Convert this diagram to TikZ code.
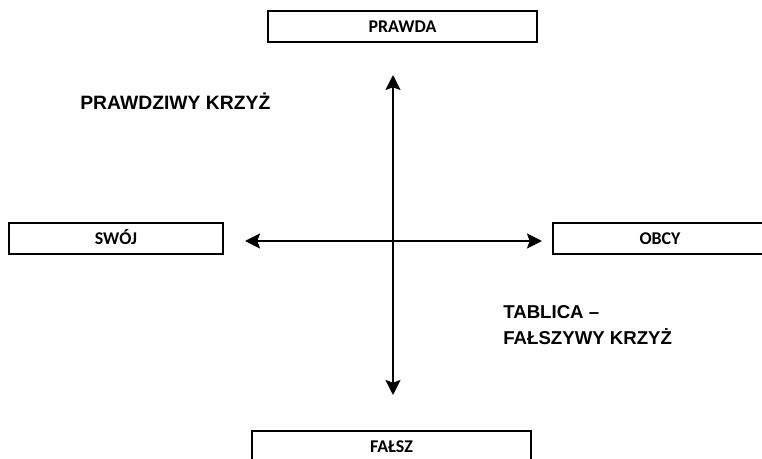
\documentclass[tikz,border=0pt]{standalone}
\usepackage{fontspec}
\setmainfont{Liberation Sans}
\newfontfamily\boxfont{Carlito}
\usetikzlibrary{arrows.meta}

\tikzset{
  pole/.style={draw, line width=1.4pt, minimum height=31*0.02cm, inner sep=0pt,
               text height=1.45ex, text depth=0.2ex,
               font=\boxfont\bfseries\fontsize{10.2}{12}\selectfont},
  axis/.style={line width=1.4pt, {Stealth[length=8.5pt,width=8.5pt,inset=1.5pt]}-{Stealth[length=8.5pt,width=8.5pt,inset=1.5pt]}},
  note/.style={anchor=west, align=left, font=\fontsize{11}{13}\selectfont\bfseries, inner sep=0pt}
}

\begin{document}
\begin{tikzpicture}[x=0.02cm, y=-0.02cm]
      \useasboundingbox (0,0) rectangle (762,459);
      \clip (0,0) rectangle (762,459);
      % the four poles
      \node[pole, minimum width=269*0.02cm] (prawda) at (402.5, 26.5) {PRAWDA};
      \node[pole, minimum width=214*0.02cm] (swoj) at (116, 238.5) {SWÓJ};
      \node[pole, minimum width=214*0.02cm] (obcy) at (660, 238.5) {OBCY};
      \node[pole, minimum width=279*0.02cm] (falsz) at (391.5, 446.5) {FAŁSZ};
      % axis ends
      \coordinate (gora) at (393, 75);
      \coordinate (dol) at (393, 395);
      \coordinate (lewo) at (245, 241);
      \coordinate (prawo) at (542, 241);
      \draw[axis] (dol) -- (gora);
      \draw[axis] (lewo) -- (prawo);
      % labels
      \node[note] (prawdziwy) at (80, 101) {PRAWDZIWY KRZYŻ};
      \node[note, font=\fontsize{10.6}{13}\selectfont\bfseries] (tablica) at (503, 325) {TABLICA –\\[2pt]FAŁSZYWY KRZYŻ};
\end{tikzpicture}
\end{document}
